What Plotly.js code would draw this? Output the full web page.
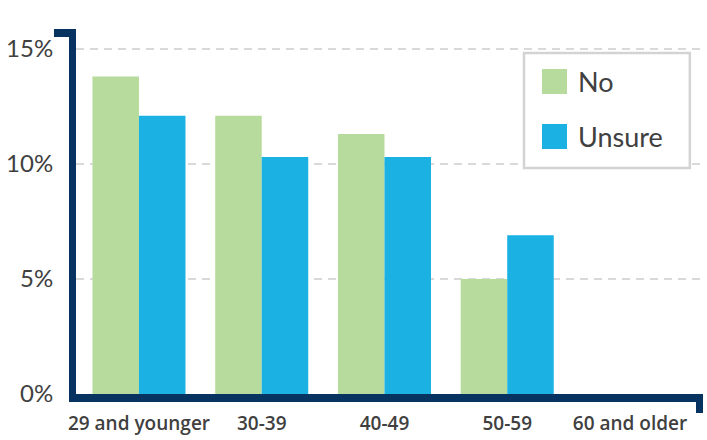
<!DOCTYPE html>
<html><head><meta charset="utf-8">
<script src="https://cdn.plot.ly/plotly-3.0.1.min.js"></script>
<style>html,body{margin:0;padding:0;background:#fff}#c{width:707px;height:440px}</style>
</head><body><div id="c"></div>
<script>
const categories = ["29 and younger", "30-39", "40-49", "50-59", "60 and older"];
const seriesNames = ["No", "Unsure"];
const noValues = [13.8, 12.1, 11.3, 5.0, null];
const unsureValues = [12.1, 10.3, 10.3, 6.9, null];
const yTickVals = [0, 5, 10, 15];
const yTickText = ["0%", "5%", "10%", "15%"];

const colors = ["#B7DB9C", "#1BB2E3"];
const navy = "#06335F";
const textColor = "#404040";

const traces = [
  {type: "bar", name: seriesNames[0], x: categories, y: noValues, marker: {color: colors[0]}, showlegend: false, hoverinfo: "none"},
  {type: "bar", name: seriesNames[1], x: categories, y: unsureValues, marker: {color: colors[1]}, showlegend: false, hoverinfo: "none"}
];

const shapes = [
  {type: "rect", xref: "paper", yref: "paper", x0: -0.0351, x1: 0, y0: 0.978, y1: 1.0, fillcolor: navy, line: {width: 0}, layer: "above"},
  {type: "rect", xref: "paper", yref: "paper", x0: 0.9888, x1: 1.0, y0: -0.052, y1: 0, fillcolor: navy, line: {width: 0}, layer: "above"},
  {type: "rect", xref: "paper", yref: "paper", x0: 0.7145, x1: 0.979, y0: 0.619, y1: 0.934, fillcolor: "#fff", line: {color: "#D3D3D3", width: 2.5}, layer: "above"}
];
const swY = [[0.8219, 0.8904], [0.6712, 0.7397]];
const annotations = [];
seriesNames.forEach((n, i) => {
  shapes.push({type: "rect", xref: "paper", yref: "paper", x0: 0.7432, x1: 0.7831, y0: swY[i][0], y1: swY[i][1], fillcolor: colors[i], line: {width: 0}, layer: "above"});
  annotations.push({xref: "paper", yref: "paper", x: 0.797, y: (swY[i][0] + swY[i][1]) / 2, xanchor: "left", yanchor: "middle", text: n, showarrow: false, font: {family: "Lato, sans-serif", size: 27, color: textColor}});
});

const layout = {
  width: 707, height: 440,
  margin: {l: 76, r: 4, t: 29, b: 46},
  paper_bgcolor: "#fff", plot_bgcolor: "#fff",
  barmode: "group", bargap: 0.242, bargroupgap: 0,
  xaxis: {range: [-0.513, 4.595], showline: true, linecolor: navy, linewidth: 8, ticks: "", showgrid: false, zeroline: false,
          tickfont: {family: "Open Sans, sans-serif", size: 19, color: textColor, weight: 600}, ticklabelstandoff: 5, fixedrange: true},
  yaxis: {range: [0, 15.87], showline: true, linecolor: navy, linewidth: 7, ticks: "", zeroline: false,
          tickvals: yTickVals, ticktext: yTickText, showgrid: true, gridcolor: "#D9D9D9", gridwidth: 2, griddash: "8px,6px",
          tickfont: {family: "Lato, sans-serif", size: 24, color: textColor}, ticklabelstandoff: 11, fixedrange: true},
  shapes: shapes,
  annotations: annotations,
  showlegend: false
};
Plotly.newPlot("c", traces, layout, {displayModeBar: false, staticPlot: true});
</script></body></html>
